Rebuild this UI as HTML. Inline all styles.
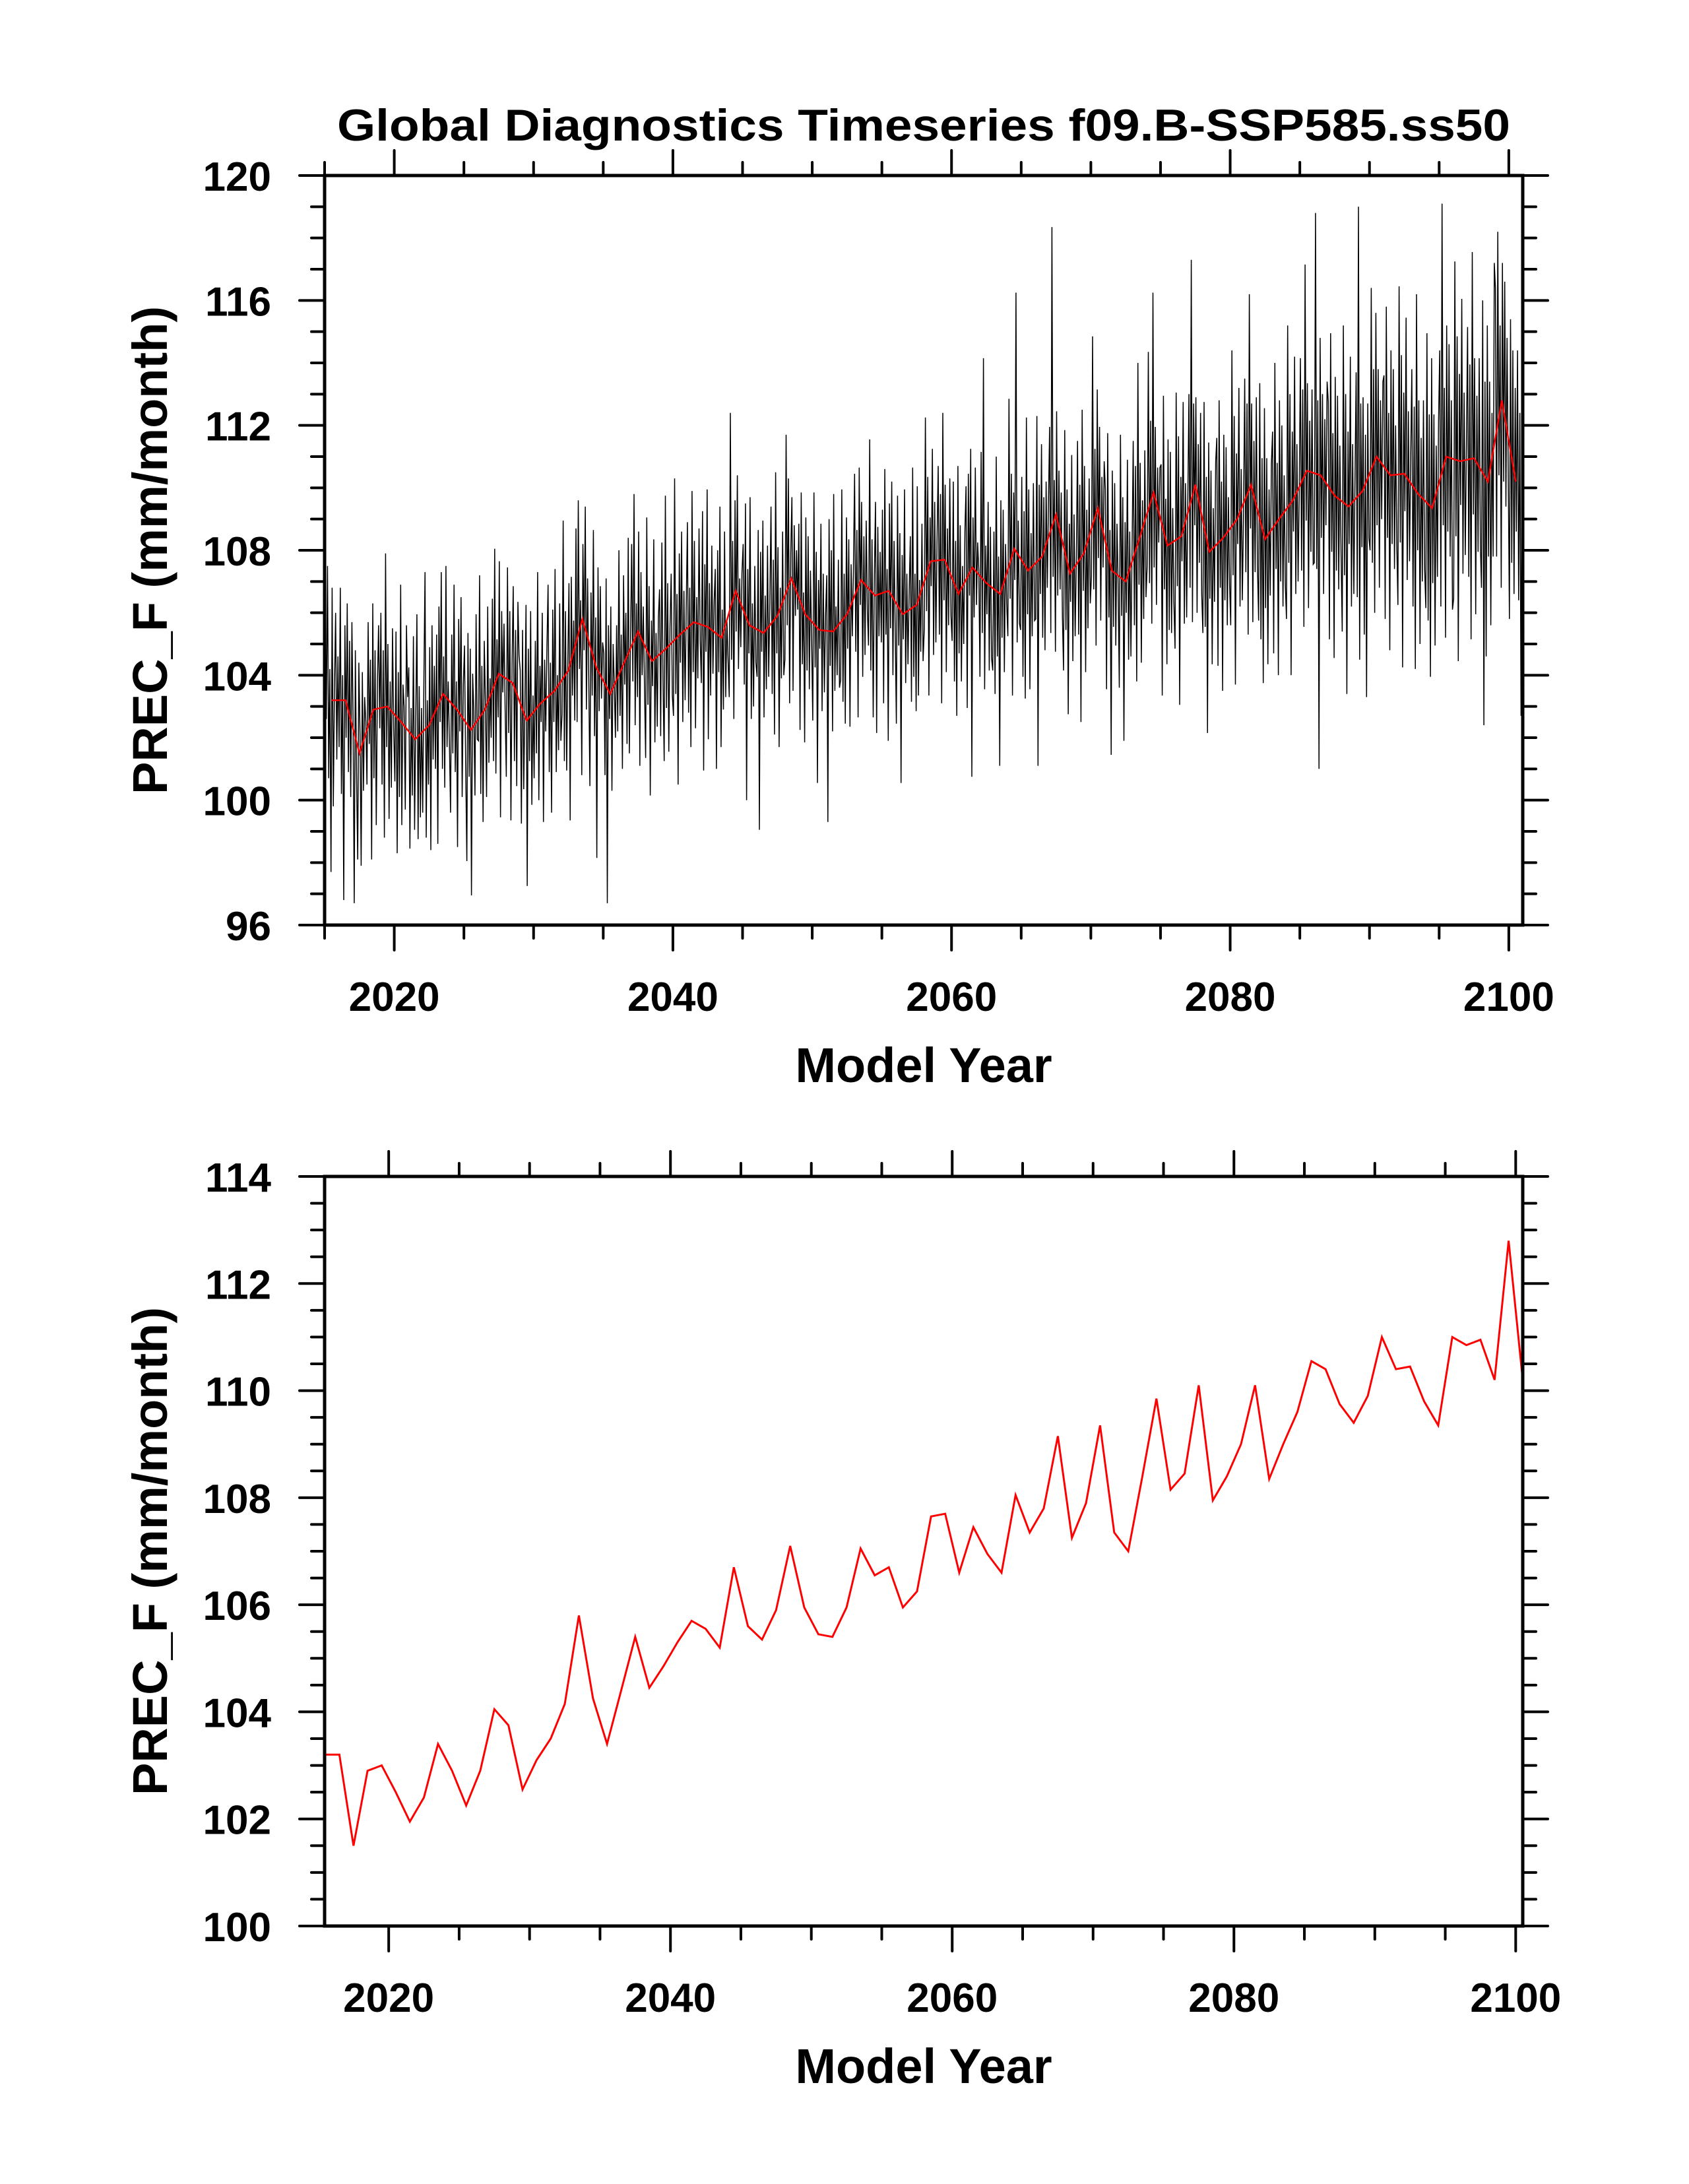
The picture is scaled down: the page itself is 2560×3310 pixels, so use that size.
<!DOCTYPE html>
<html><head><meta charset="utf-8"><title>Global Diagnostics Timeseries</title>
<style>html,body{margin:0;padding:0;background:#fff}svg{display:block}text{font-family:"Liberation Sans",Arial,sans-serif;font-weight:bold;fill:#000}</style>
</head><body>
<svg id="chart" width="2560" height="3310" viewBox="0 0 2560 3310" xmlns="http://www.w3.org/2000/svg">
<text x="1400" y="213" font-size="68" text-anchor="middle" textLength="1778" lengthAdjust="spacingAndGlyphs">Global Diagnostics Timeseries f09.B-SSP585.ss50</text>
<g id="top"></g>
<g id="bot"></g>
</svg>
<script>
const years = [];
for (let y = 2015; y <= 2100; y++) years.push(y);
const annualMean = [103.2,103.2,101.5,102.9,103.0,102.5,101.95,102.4,103.4,102.9,102.25,102.9,104.05,103.75,102.55,103.1,103.5,104.15,105.8,104.25,103.4,104.4,105.4,104.45,104.85,105.3,105.7,105.55,105.2,106.7,105.6,105.35,105.9,107.1,105.95,105.45,105.4,105.95,107.05,106.55,106.7,105.95,106.25,107.65,107.7,106.6,107.45,106.95,106.6,108.05,107.35,107.8,109.15,107.25,107.9,109.35,107.35,107.0,108.4,109.85,108.15,108.45,110.1,107.95,108.4,109.0,110.1,108.35,109.0,109.6,110.55,110.4,109.75,109.4,109.9,111.0,110.4,110.45,109.8,109.35,111.0,110.85,110.95,110.2,112.8,110.2];
const monthlyAnomaly = [
[2.1,-0.6,4.3,-2.5,1.0,-5.5,3.6,-3.4,0.5,2.8,-1.9,1.4],
[-1.5,3.6,-3.0,0.8,-6.4,2.4,-1.2,3.1,-2.3,1.9,-3.1,2.5],
[1.2,-4.8,3.3,-0.7,-3.4,2.9,0.6,-3.6,2.6,-1.2,1.8,1.0],
[-2.4,2.8,-1.1,1.6,-4.8,3.4,-2.2,1.9,-3.7,0.9,2.7,-0.6],
[3.0,-2.5,1.8,-4.2,4.9,-1.3,2.0,-3.6,0.8,-2.6,2.5,-0.7],
[-1.9,2.9,-4.2,1.6,-2.4,4.4,-3.3,1.2,0.5,-2.8,3.1,0.8],
[2.3,-3.5,1.0,-1.8,3.3,-2.9,0.6,4.0,-3.2,1.7,-2.5,1.0],
[-2.8,1.5,4.9,-3.6,0.8,-1.9,2.5,-4.0,3.2,-1.1,1.9,-1.4],
[1.9,-4.8,2.8,-0.9,3.9,-2.4,1.2,-3.0,4.1,-1.7,0.4,-1.6],
[-3.3,2.4,-1.4,4.0,-2.0,0.9,-4.4,2.9,-0.7,3.6,-2.8,0.8],
[2.7,-1.1,-4.2,3.1,-1.5,2.6,-5.3,1.8,0.6,-2.1,3.7,-0.3],
[-1.0,4.3,-2.7,1.4,-3.6,2.2,0.3,-2.8,3.3,-1.7,1.0,-0.9],
[2.4,-2.8,4.0,-3.2,1.1,-1.4,3.6,-4.6,2.0,-0.6,1.6,-1.1],
[-3.0,3.7,-1.6,2.3,-4.4,0.7,3.1,-2.5,1.7,-3.3,2.6,0.9],
[1.6,-3.3,2.9,-2.2,0.4,3.7,-5.3,2.3,-1.3,3.5,-2.7,0.8],
[-2.4,2.0,-1.6,4.2,-3.1,1.2,-0.6,2.9,-3.8,1.4,-0.9,1.8],
[3.4,-2.6,0.9,-3.9,2.6,-1.0,3.9,-2.6,0.5,-1.9,2.8,-1.6],
[-1.4,4.8,-2.9,1.9,-3.2,0.4,2.8,-4.8,3.0,-0.8,1.6,-1.6],
[2.9,-3.3,3.8,-1.6,0.6,-5.0,2.4,-1.0,3.6,-2.9,1.3,-1.8],
[-3.8,2.4,-0.9,4.4,-2.2,1.6,-6.1,3.2,-1.4,2.6,-1.0,0.8],
[1.3,-2.6,3.7,-6.7,2.2,-0.8,2.8,-3.1,1.6,0.4,-1.4,2.2],
[-2.2,3.6,-1.7,0.9,-3.4,2.8,-0.7,1.6,-2.6,4.0,-2.9,0.7],
[2.8,-1.6,4.4,-3.0,0.9,-2.1,3.2,-4.3,1.9,-1.4,0.8,-1.7],
[-3.1,4.6,-1.4,2.4,-4.3,1.3,-0.8,3.9,-2.6,0.9,-2.1,1.4],
[1.9,-2.8,3.4,-1.0,-3.6,4.9,-1.9,2.1,-3.3,0.7,2.4,-1.5],
[-2.6,5.0,-1.9,1.3,-4.8,2.6,-0.9,3.3,-2.8,1.4,-2.1,0.8],
[3.2,-2.9,1.1,-4.0,4.2,-1.6,2.6,-3.4,0.8,-1.8,3.0,-0.6],
[-1.8,3.7,-4.6,2.0,-0.8,4.4,-3.6,1.4,-2.2,2.6,-1.5,0.8],
[2.2,-4.2,2.8,-1.1,4.2,-3.5,0.9,-2.3,3.4,-1.9,0.6,-0.7],
[-3.4,5.7,-2.2,1.6,-4.1,2.9,-1.3,3.7,-2.5,0.4,-1.8,0.6],
[2.6,-1.9,3.9,-5.6,1.8,-0.9,4.1,-3.0,0.7,-2.6,1.9,-1.2],
[-1.4,3.3,-6.3,2.6,-0.6,3.6,-2.7,1.2,-1.8,2.8,-1.4,0.9],
[3.5,-2.5,1.8,-3.8,4.6,-1.2,2.2,-4.2,0.9,-2.0,2.7,-1.9],
[-2.6,4.6,-1.5,3.2,-4.0,0.8,2.6,-3.6,1.7,-1.2,0.9,-1.0],
[2.9,-3.7,3.9,-1.6,0.7,-4.1,3.1,-1.8,2.5,-2.4,1.4,-0.9],
[-2.9,4.4,-1.2,2.5,-4.9,1.6,-0.6,3.4,-2.6,1.8,-2.0,0.5],
[1.8,-6.1,3.6,-1.1,2.6,-3.2,4.4,-1.9,0.8,-1.4,2.3,-1.8],
[-2.1,4.0,-2.8,1.3,-3.5,3.1,-1.1,2.4,-3.6,1.6,-0.7,1.4],
[3.4,-2.3,1.6,-4.4,3.6,-0.8,2.5,-3.1,1.4,-2.4,1.9,-1.0],
[-1.6,5.0,-2.4,1.8,-3.9,0.6,3.0,-4.4,2.2,-1.3,1.4,-1.5],
[2.6,-3.6,3.9,-1.4,0.7,-4.8,2.8,-1.2,3.5,-2.7,1.6,-1.3],
[-3.5,3.8,-1.0,2.6,-5.4,1.9,-0.8,4.0,-2.2,1.3,-1.6,0.7],
[2.2,-3.1,4.4,-2.3,1.0,-3.4,3.8,-2.9,0.8,-1.5,2.6,-1.8],
[-2.2,4.6,-1.6,2.7,-4.3,1.4,-0.8,3.6,-3.0,1.9,-2.6,0.6],
[3.0,-2.4,2.1,-4.6,4.7,-1.3,2.4,-3.6,1.0,-2.1,2.6,-1.8],
[-1.5,3.6,-2.8,1.7,-3.9,4.1,-1.9,2.2,-2.8,0.9,-1.6,2.0],
[2.6,-4.5,3.0,-0.9,3.8,-6.7,1.6,-1.6,3.2,-1.2,0.8,-0.1],
[-3.0,4.2,-1.6,7.2,-3.4,1.2,-1.0,2.6,-2.8,1.8,-2.4,-2.8],
[2.0,-3.2,4.4,-2.0,1.2,-5.5,3.0,-1.4,2.7,-2.5,1.6,-0.3],
[-2.8,4.8,-1.6,2.4,-4.7,1.8,-1.0,8.2,-3.0,0.9,-2.4,-2.6],
[3.0,-3.4,1.9,-4.1,4.9,-1.4,2.6,-3.8,1.2,-2.1,2.8,-1.6],
[-2.0,4.5,-6.7,2.3,-1.2,3.6,-2.6,1.9,-3.0,2.4,-1.0,1.8],
[2.8,-3.8,9.2,-2.0,1.1,-4.4,3.3,-2.6,1.4,-2.4,0.7,-3.3],
[-3.1,4.6,-1.8,2.7,-4.5,1.6,-0.9,3.8,-2.8,1.9,-2.0,0.5],
[3.6,-2.6,2.2,-5.4,4.6,-1.2,2.8,-3.8,1.4,-2.4,2.4,-1.6],
[-2.2,5.5,-2.6,1.9,-4.4,3.8,-1.6,2.6,-3.6,1.0,-1.9,1.5],
[2.6,-3.8,4.4,-1.5,1.3,-5.9,3.2,-1.8,2.8,-2.4,1.5,-0.4],
[-3.4,4.7,-1.1,2.7,-5.1,1.9,-1.0,3.9,-2.5,1.6,-2.4,1.1],
[3.1,-2.8,2.3,-4.6,5.6,-1.5,2.4,-4.0,1.2,-2.6,2.8,-1.9],
[-2.4,4.5,-2.9,2.3,-4.2,6.4,-2.4,2.1,-3.6,0.8,-1.6,0.8],
[2.6,-4.8,4.8,-1.4,1.5,-3.8,3.4,-2.7,3.0,-2.8,1.2,-1.8],
[-3.6,4.6,-1.6,3.2,-5.4,1.9,-0.8,4.3,-2.8,1.7,-2.6,1.1],
[2.9,-3.3,7.2,-4.4,2.6,-1.3,2.8,-4.1,1.3,-2.5,2.3,-3.5],
[-2.6,4.8,-2.4,2.4,-5.8,3.5,-1.5,2.6,-3.6,1.4,-1.6,2.9],
[3.2,-4.1,4.4,-1.6,1.8,-4.9,3.3,-2.0,2.9,-2.8,1.3,-1.5],
[-3.4,5.4,-1.8,3.3,-5.3,2.1,-0.8,4.2,-2.8,1.6,-2.6,0.1],
[3.4,-2.8,2.6,-4.8,6.1,-1.4,2.6,-4.4,1.4,-2.8,2.8,-2.6],
[-2.6,5.0,-3.2,2.6,-4.6,4.2,-2.2,2.6,-4.0,1.6,-1.8,2.4],
[2.8,-4.3,5.0,-1.6,1.8,-5.0,3.8,-2.0,3.0,-2.8,1.4,-2.1],
[-3.8,5.6,-2.0,3.4,-5.6,2.2,-1.0,4.6,-3.0,1.8,-2.6,0.4],
[3.6,-3.2,2.6,-5.0,6.6,-1.6,2.8,-4.4,1.6,-2.6,2.6,-3.0],
[-2.8,8.4,-3.0,2.4,-9.4,4.4,-2.0,2.6,-3.8,1.8,-1.6,3.0],
[3.0,-4.6,5.2,-1.8,2.0,-5.2,3.8,-2.4,3.2,-3.0,1.6,-1.8],
[-4.0,5.8,-2.2,3.6,-6.0,2.4,-1.2,4.8,-3.2,2.0,-2.8,0.8],
[3.8,-3.4,9.1,-5.4,2.8,-1.8,3.0,-4.6,1.8,-6.6,2.8,-1.5],
[-3.0,5.4,-3.4,2.8,-5.0,4.6,-2.2,2.8,-4.2,1.8,-2.0,2.4],
[3.2,-4.6,5.4,-2.0,2.0,-5.6,4.0,-2.2,3.4,-3.0,1.6,-2.2],
[-4.2,6.0,-2.2,3.8,-6.2,2.6,-1.2,5.0,-3.4,2.0,-2.8,0.6],
[4.0,-3.6,2.8,-5.6,6.4,-1.8,3.0,-4.8,1.8,-2.8,3.0,-2.4],
[-3.2,5.6,-3.6,3.0,-5.4,4.8,-2.4,3.0,-4.4,2.0,-2.2,2.8],
[3.4,-4.8,8.1,-2.2,2.2,-5.8,4.2,-2.4,3.6,-3.2,1.8,-4.9],
[-4.4,6.4,-2.4,4.0,-6.4,2.8,-1.4,5.2,-3.6,2.2,-3.0,0.6],
[4.2,-3.8,3.0,-5.8,6.6,-1.8,3.2,-5.0,2.0,-3.0,3.2,-2.8],
[-3.4,5.8,-7.8,3.2,-5.6,5.0,-2.4,3.2,-4.6,2.2,-2.4,7.0],
[3.6,-5.0,5.4,-2.4,2.4,-6.0,4.4,-2.6,3.8,-3.4,2.0,-2.2],
[-4.4,5.2,-2.6,4.2,-3.6,3.0,-1.6,4.2,-3.8,2.2,-7.5,3.0]
];
const xMajorTicks = [2020, 2040, 2060, 2080, 2100];
const topYTicks = [96, 100, 104, 108, 112, 116, 120];
const botYTicks = [100, 102, 104, 106, 108, 110, 112, 114];

const NS = 'http://www.w3.org/2000/svg';
function mk(parent, tag, attrs) {
  const e = document.createElementNS(NS, tag);
  for (const k in attrs) e.setAttribute(k, attrs[k]);
  parent.appendChild(e);
  return e;
}
function lin(d0, d1, r0, r1) { return v => r0 + (v - d0) * (r1 - r0) / (d1 - d0); }

function drawPanel(g, cfg) {
  const L = 492, R = 2308, T = cfg.top, B = cfg.top + 1136;
  const sx = lin(cfg.x0, cfg.x1, L, R), sy = lin(cfg.y0, cfg.y1, B, T);
  for (let yr = 2015; yr <= 2100; yr += 5) {
    if (yr < cfg.x0 - 1e-6 || yr > cfg.x1 + 1e-6) continue;
    const x = sx(yr);
    const major = xMajorTicks.indexOf(yr) >= 0;
    const len = major ? 38 : 20;
    const t1 = mk(g, 'line', {x1: x, x2: x, y1: B, y2: B + len, stroke: '#000', 'stroke-width': 4, 'stroke-linecap': 'round'});
    
    
    const t2 = mk(g, 'line', {x1: x, x2: x, y1: T, y2: T - len, stroke: '#000', 'stroke-width': 4, 'stroke-linecap': 'round'});
    
    
  }
  xMajorTicks.forEach(yr => {
    const t = mk(g, 'text', {x: sx(yr), y: B + 130, 'font-size': 62, 'text-anchor': 'middle'});
    t.textContent = yr;
    
    
  });
  for (let v = cfg.y0; v <= cfg.y1 + 1e-9; v += cfg.minor) {
    const y = sy(v);
    const major = Math.abs(((v - cfg.y0) / cfg.major) - Math.round((v - cfg.y0) / cfg.major)) < 1e-6;
    const len = major ? 38 : 20;
    const a = mk(g, 'line', {x1: L, x2: L - len, y1: y, y2: y, stroke: '#000', 'stroke-width': 4, 'stroke-linecap': 'round'});
    
    
    const b = mk(g, 'line', {x1: R, x2: R + len, y1: y, y2: y, stroke: '#000', 'stroke-width': 4, 'stroke-linecap': 'round'});
    
    
  }
  cfg.yTicks.forEach(v => {
    const t = mk(g, 'text', {x: 411, y: sy(v) + 23, 'font-size': 62, 'text-anchor': 'end'});
    t.textContent = v;
    
    
  });
  cfg.series.forEach(s => {
    const pts = s.xs.map((x, i) => sx(x).toFixed(1) + ',' + sy(s.ys[i]).toFixed(1)).join(' ');
    const p = mk(g, 'polyline', {points: pts, fill: 'none', stroke: s.color, 'stroke-width': s.w, 'stroke-linejoin': 'miter'});
    
    
  });
  const fr = mk(g, 'rect', {x: L, y: T, width: R - L, height: B - T, fill: 'none', stroke: '#000', 'stroke-width': 5});
  
  
  const xt = mk(g, 'text', {x: 1400, y: B + 238, 'font-size': 74, 'text-anchor': 'middle'});
  xt.textContent = 'Model Year';
  
  
  const cy = (T + B) / 2;
  const yt = mk(g, 'text', {x: 0, y: 0, 'font-size': 74, 'text-anchor': 'middle', transform: 'translate(253,' + cy + ') rotate(-90)'});
  yt.textContent = 'PREC_F (mm/month)';
  
  
}

const monthX = [], monthY = [];
years.forEach((yr, i) => {
  monthlyAnomaly[i].forEach((a, m) => { monthX.push(yr + (m + 0.5) / 12); monthY.push(annualMean[i] + a); });
});
const annX = years.map(y => y + 0.5);

drawPanel(document.getElementById('top'), {
  top: 266, x0: 2015, x1: 2101, y0: 96, y1: 120, major: 4, minor: 1, yTicks: topYTicks,
  series: [
    {xs: monthX, ys: monthY, color: '#000', w: 1.5, name: 'monthly-series-line'},
    {xs: annX, ys: annualMean, color: '#ff0000', w: 2.5, name: 'annual-mean-line-top'}
  ]
});
drawPanel(document.getElementById('bot'), {
  top: 1783, x0: 2015.45, x1: 2100.5, y0: 100, y1: 114, major: 2, minor: 0.5, yTicks: botYTicks,
  series: [
    {xs: annX, ys: annualMean, color: '#ff0000', w: 3, name: 'annual-mean-line'}
  ]
});
</script>
</body></html>
